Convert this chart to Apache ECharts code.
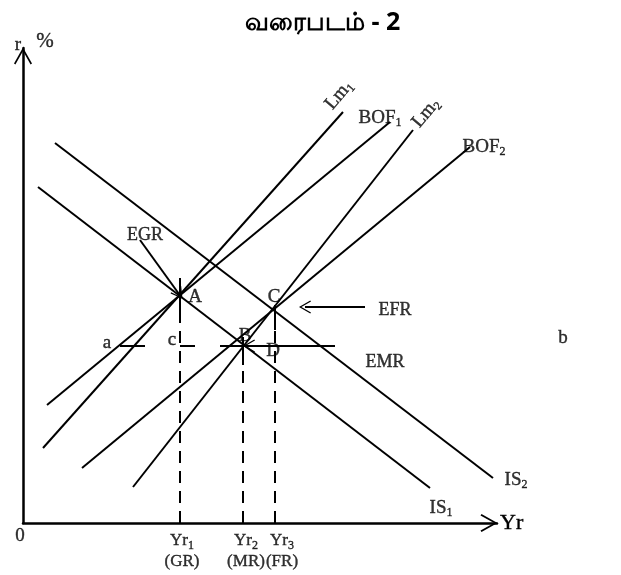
<!DOCTYPE html>
<html>
<head>
<meta charset="utf-8">
<script src="https://cdn.jsdelivr.net/npm/echarts@6/dist/echarts.min.js"></script>
<style>
    html, body { margin: 0; background: #fff; }
    #chart { width: 621px; height: 575px; }
</style>
</head>
<body>
<div id="chart"></div>
<script>
    // diagram units, origin at 0 (Yr across, r % up)
    const is1 = [[15, 336], [407, 35]]
    const is2 = [[32, 380], [470, 45]]
    const lm1 = [[20, 75], [320, 411]]
    const lm2 = [[110, 36], [390, 393]]
    const bof1 = [[24, 118], [367, 401]]
    const bof2 = [[59, 55], [447, 376]]

    // Yr1 (GR), Yr2 (MR), Yr3 (FR)
    const yrValues = [157, 220, 252]
    const yrSubs = ['1', '2', '3']
    const yrRegimes = ['(GR)', '(MR)', '(FR)']
    const yrLabelX = [159, 223, 259]
    const yrTops = [206, 158, 193]
    const yrTicks = [[206, 245], [158, 186], [193, 218]]

    // short horizontal pieces at the B interest rate
    const rLevel = 177
    const rPieces = [[97, 122], [157, 172], [197, 312]]

    // arrows: [from, to]
    const arrows = [
        [[342, 216], [282, 216]],   // EFR -> C
        [[117, 283], [156, 229]],   // EGR -> A
        [[240, 177], [226, 177]]    // EMR -> B
    ]

    // [x, y, text, rotate]
    const labels = [
        [172, 226, '{m|A}'],
        [222, 187, '{m|B}'],
        [251, 226, '{m|C}'],
        [250, 172, '{m|D}'],
        [84, 180, '{m|a}'],
        [149, 183, '{m|c}'],
        [540, 185, '{m|b}'],
        [122, 288, '{t|EGR}'],
        [372, 213, '{t|EFR}'],
        [362, 161, '{t|EMR}'],
        [316, 428, '{m|Lm}{s|1}', 50],
        [357, 405, '{m|BOF}{s|1}'],
        [403, 410, '{m|Lm}{s|2}', 50],
        [461, 376, '{m|BOF}{s|2}'],
        [493, 43, '{m|IS}{s|2}'],
        [418, 15, '{m|IS}{s|1}'],
        [-5, 478, '{m|r}'],
        [22, 482, '{p|%}'],
        [-3, -13, '{m|0}']
    ]
    yrValues.forEach((v, i) => {
        labels.push([yrLabelX[i], -28, '{x|Yr}{s|' + yrSubs[i] + '}\n{x|' + yrRegimes[i] + '}'])
    })

    const chevron = 'path://M0,16 L9,0 L18,16 L16.6,17 L9,3.4 L1.4,17 Z'
    const ink = '#000'
    const serif = '"Liberation Serif", "DejaVu Serif", serif'
    // a thin outline makes the serif text as dark as in the scan
    const bold = {textBorderColor: ink, textBorderWidth: 0.4}

    const rich = {
        m: Object.assign({fontSize: 19, fontFamily: serif, color: ink}, bold),
        p: Object.assign({fontSize: 21, fontFamily: serif, color: ink}, bold),
        t: Object.assign({fontSize: 18, fontFamily: serif, color: ink}, bold),
        x: Object.assign({fontSize: 17, fontFamily: serif, color: ink, lineHeight: 21}, bold),
        s: Object.assign({fontSize: 12, fontFamily: serif, color: ink, padding: [10, 0, 0, 0]}, bold)
    }

    function seg(data, dashed) {
        return {
            type: 'line',
            data: data,
            symbol: 'none',
            silent: true,
            lineStyle: {color: ink, width: 2, type: dashed ? [12, 8] : 'solid'}
        }
    }

    let series = [is1, is2, lm1, lm2, bof1, bof2].map(d => seg(d))
    yrValues.forEach((x, i) => {
        series.push(seg([[x, 0], [x, yrTops[i]]], true))
        series.push(seg([[x, yrTicks[i][0]], [x, yrTicks[i][1]]]))
    })
    rPieces.forEach(p => series.push(seg([[p[0], rLevel], [p[1], rLevel]])))

    series.push({
        type: 'line',
        data: [],
        markLine: {
            silent: true,
            symbol: ['none', chevron],
            symbolSize: [13, 12],
            lineStyle: {color: ink, width: 2, type: 'solid'},
            label: {show: false},
            data: arrows.map(a => [{coord: a[0]}, {coord: a[1]}])
        }
    })

    series.push({
        type: 'scatter',
        symbolSize: 0,
        clip: false,
        silent: true,
        data: labels.map(l => ({
            value: [l[0], l[1]],
            label: {formatter: l[2], rotate: l[3] || 0}
        })),
        label: {show: true, position: 'inside', rich: rich}
    })

    const axisLine = {
        show: true,
        lineStyle: {color: ink, width: 2.5},
        symbol: ['none', chevron],
        symbolSize: [19, 17],
        symbolOffset: [0, -8]
    }

    const option = {
        animation: false,
        backgroundColor: '#fff',
        title: {
            text: 'வரைபடம் - 2',
            left: 240,
            top: 5,
            textStyle: {fontSize: 25, fontWeight: 'bold', color: ink, fontFamily: '"Noto Sans", sans-serif'}
        },
        grid: {left: 23, top: 48, width: 474, height: 475, containLabel: false, outerBoundsMode: 'none'},
        xAxis: {
            type: 'value',
            min: 0,
            max: 474,
            axisLine: axisLine,
            axisTick: {show: false},
            splitLine: {show: false},
            axisLabel: {show: false},
            name: 'Yr',
            nameLocation: 'end',
            nameGap: 3,
            nameTextStyle: Object.assign({fontSize: 22, fontFamily: serif, color: ink}, bold)
        },
        yAxis: {
            type: 'value',
            min: 0,
            max: 475,
            axisLine: axisLine,
            axisTick: {show: false},
            splitLine: {show: false},
            axisLabel: {show: false}
        },
        series: series
    }

    const chart = echarts.init(document.getElementById('chart'))
    chart.setOption(option)
</script>
</body>
</html>
